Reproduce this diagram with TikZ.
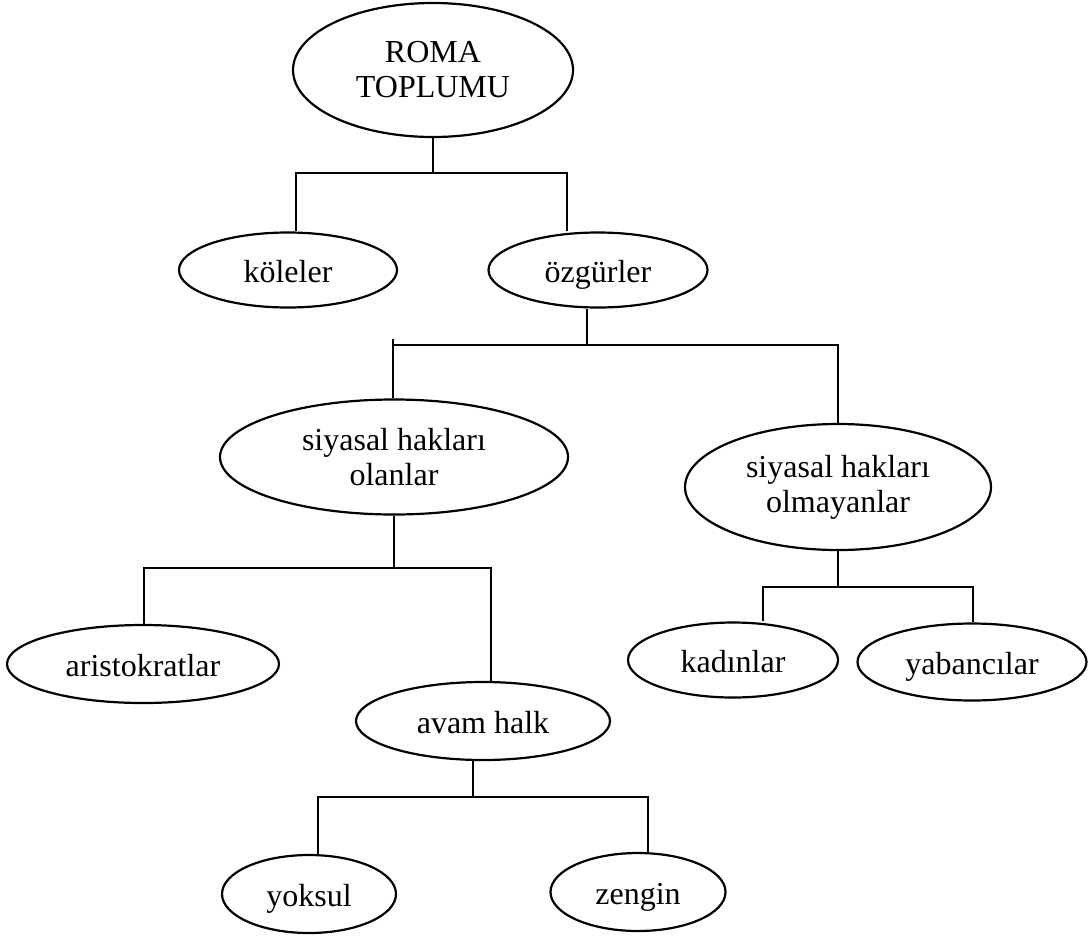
\documentclass[tikz,border=0pt]{standalone}
\usepackage{fontspec}
\setmainfont{Liberation Serif}
\usetikzlibrary{shapes.geometric}

\begin{document}
\begin{tikzpicture}[x=0.5pt,y=-0.5pt]
	\tikzset{
		kutu/.style={draw,ellipse,line width=1.1pt,inner sep=0pt,
			font=\fontsize{16}{17.5}\selectfont},
		tek/.style={kutu,text height=12pt,text depth=0pt},
		iki/.style={kutu,align=center},
		bag/.style={line width=1pt}
	}
	\useasboundingbox (0,0) rectangle (1090,937);
	
	\node[iki,minimum width=140pt,minimum height=67pt] (roma) at (433,70) {ROMA\\TOPLUMU};
	\node[tek,minimum width=109pt,minimum height=37.5pt] (koleler) at (288,270) {köleler};
	\node[tek,minimum width=109.5pt,minimum height=37.5pt] (ozgurler) at (598,270) {özgürler};
	\node[iki,minimum width=174pt,minimum height=57.5pt] (olanlar) at (394,457) {siyasal hakları\\olanlar};
	\node[iki,minimum width=153pt,minimum height=63pt] (olmayanlar) at (838,487) {siyasal hakları\\olmayanlar};
	\node[tek,minimum width=136pt,minimum height=39pt] (aristokratlar) at (143,664) {aristokratlar};
	\node[tek,minimum width=127pt,minimum height=39pt] (avam) at (483,721) {avam halk};
	\node[tek,minimum width=105pt,minimum height=37.5pt] (kadinlar) at (733,660) {kadınlar};
	\node[tek,minimum width=114.5pt,minimum height=38.5pt] (yabancilar) at (972,662) {yabancılar};
	\node[tek,minimum width=87pt,minimum height=39pt] (yoksul) at (309,894) {yoksul};
	\node[tek,minimum width=87.5pt,minimum height=39pt] (zengin) at (638,892) {zengin};
	
	% roma toplumu
	\coordinate (r1) at (296,173);
	\coordinate (r2) at (567,173);
	\draw[bag] (roma.south) -- (roma.south |- r1);
	\draw[bag] (r1 |- koleler.north) -- (r1) -- (r2) -- (r2 |- ozgurler.north);
	
	% özgürler
	\coordinate (o0) at (587,345);
	\coordinate (o1) at (393,345);
	\coordinate (o2) at (838,345);
	\draw[bag] (o0 |- ozgurler.south) -- (o0);
	\draw[bag] (o1 |- olanlar.north) -- (o1) -- (o2) -- (o2 |- olmayanlar.north);
	\draw[bag] (o1) -- ++(0,-6);
	
	% siyasal hakları olanlar
	\coordinate (a1) at (144,568);
	\coordinate (a2) at (491,568);
	\draw[bag] (olanlar.south) -- (olanlar.south |- a1);
	\draw[bag] (a1 |- aristokratlar.north) -- (a1) -- (a2) -- (a2 |- avam.north);
	
	% siyasal hakları olmayanlar
	\coordinate (m1) at (763,587);
	\coordinate (m2) at (973,587);
	\draw[bag] (olmayanlar.south) -- (olmayanlar.south |- m1);
	\draw[bag] (m1 |- kadinlar.north) -- (m1) -- (m2) -- (m2 |- yabancilar.north);
	
	% avam halk
	\coordinate (h0) at (473,797);
	\coordinate (h1) at (318,797);
	\coordinate (h2) at (648,797);
	\draw[bag] (h0 |- avam.south) -- (h0);
	\draw[bag] (h1 |- yoksul.north) -- (h1) -- (h2) -- (h2 |- zengin.north);
	
\end{tikzpicture}
\end{document}
